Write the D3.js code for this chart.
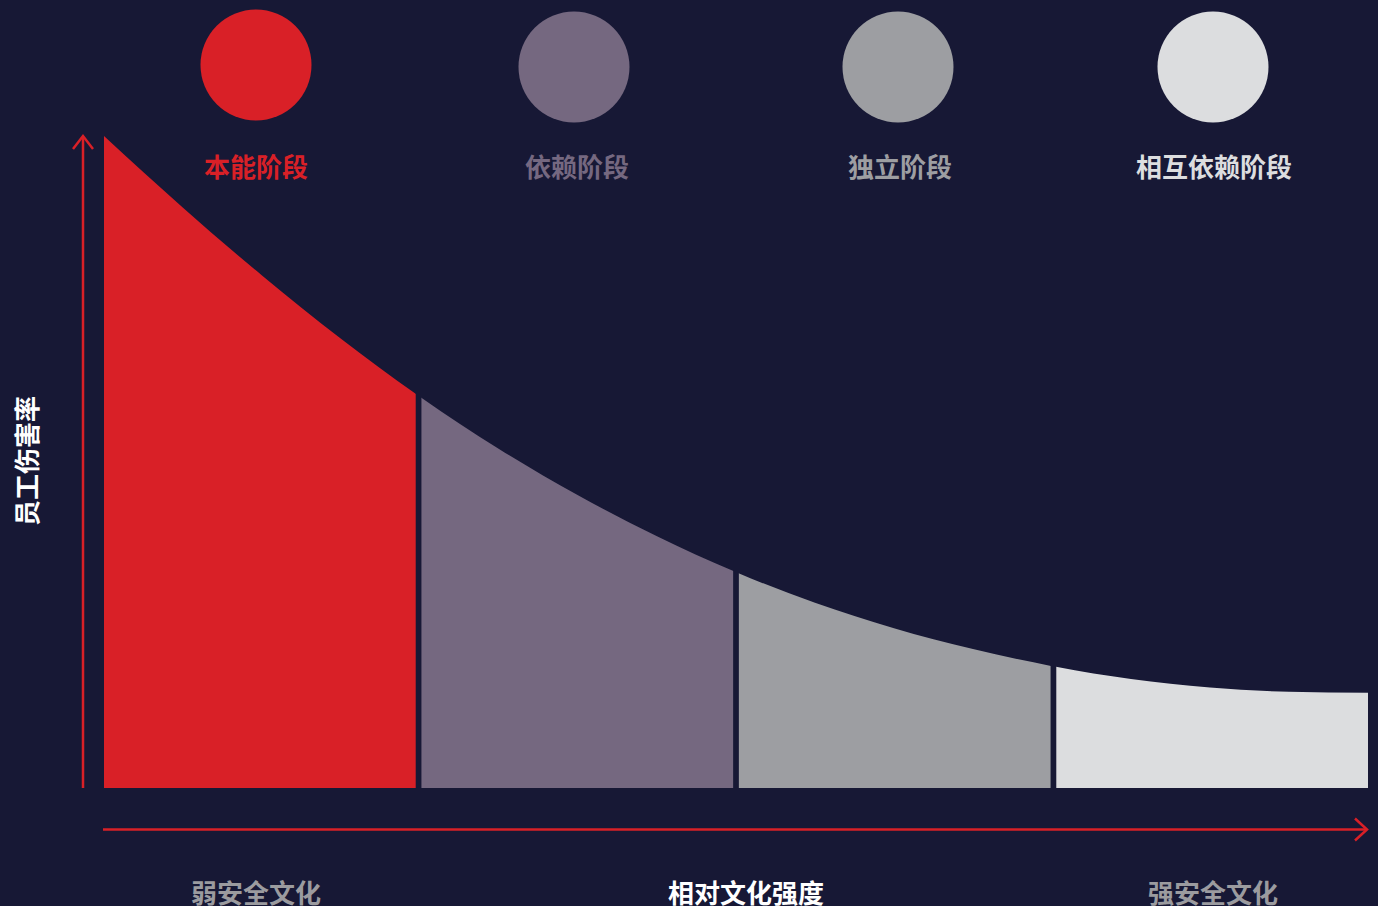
<!DOCTYPE html>
<html>
<head>
<meta charset="utf-8">
<script src="https://cdn.jsdelivr.net/npm/d3@7"></script>
<style>
  html, body { margin: 0; padding: 0; background: #171835; }
  svg { display: block; }
  text { font-family: "Noto Sans CJK SC", "Noto Sans", sans-serif; font-weight: 700; }
</style>
</head>
<body>
<div id="chart"></div>
<script>
// stages of safety culture
const stages = ["本能阶段", "依赖阶段", "独立阶段", "相互依赖阶段"];

// injury-rate curve, x in stage units (0..4), y as relative rate
const curveX = [0, 0.25, 0.5, 0.75, 1, 1.25, 1.5, 1.75, 2, 2.25, 2.5, 2.75, 3, 3.25, 3.5, 3.75, 4];
const curveY = [100, 89.0, 78.6, 68.9, 60.0, 52.0, 44.9, 38.6, 33.1, 28.4, 24.5, 21.3, 18.7, 16.7, 15.4, 14.75, 14.6];

const xEndLabels = ["弱安全文化", "强安全文化"];
const xTitle = "相对文化强度";
const yTitle = "员工伤害率";

const width = 1378, height = 906;
const stageColors = ["#d92027", "#756880", "#9d9ea2", "#dcdddf"];
const axisRed = "#d92027";
const endLabelColor = "#9b9b9f";

const svg = d3.select("#chart").append("svg")
    .attr("width", width)
    .attr("height", height);

svg.append("rect")
    .attr("width", width).attr("height", height)
    .attr("fill", "#171835");

const x = d3.scaleLinear().domain([0, 4]).range([104, 1368]);
const y = d3.scaleLinear().domain([0, 100]).range([788, 136]);
const band = d3.scaleBand().domain(stages).range([104, 1368]).paddingInner(0.018);
const head = d3.scalePoint().domain(stages).range([256, 1213]);
// header items are not evenly spaced in the original
const circleNudge = [0, -1, 4, 0];
const labelNudge = [0, 2, 6, 1];

const points = curveX.map((u, i) => ({ u: u, v: curveY[i] }));

const area = d3.area()
    .x(d => x(d.u))
    .y0(y(0))
    .y1(d => y(d.v))
    .curve(d3.curveMonotoneX);

const defs = svg.append("defs");
stages.forEach((s, i) => {
    defs.append("clipPath").attr("id", "clip" + i)
      .append("rect")
        .attr("x", band(s))
        .attr("y", 0)
        .attr("width", band.bandwidth())
        .attr("height", y(0));
});

svg.append("g")
    .attr("class", "segments")
    .selectAll("path")
    .data(stages)
    .enter().append("path")
      .attr("d", area(points))
      .attr("fill", (d, i) => stageColors[i])
      .attr("clip-path", (d, i) => `url(#clip${i})`);

// header circles + labels
svg.append("g")
    .selectAll("circle")
    .data(stages)
    .enter().append("circle")
      .attr("cx", (d, i) => head(d) + circleNudge[i])
      .attr("cy", (d, i) => i === 0 ? 65 : 67)
      .attr("r", 55.5)
      .attr("fill", (d, i) => stageColors[i]);

svg.append("g")
    .selectAll("text")
    .data(stages)
    .enter().append("text")
      .attr("x", (d, i) => head(d) + labelNudge[i])
      .attr("y", 177)
      .attr("text-anchor", "middle")
      .attr("font-size", 26)
      .attr("fill", (d, i) => stageColors[i])
      .text(d => d);

// axes (arrows)
const axes = svg.append("g")
    .attr("fill", "none")
    .attr("stroke", axisRed)
    .attr("stroke-width", 2.5);

axes.append("path")
    .attr("d", `M83,${y(0)} V${y(100) + 1}`);
axes.append("path")
    .attr("d", `M73,${y(100) + 13} L83,${y(100)} L93,${y(100) + 13}`);

const axisY = 829.5;
axes.append("path")
    .attr("d", `M${x(0) - 1},${axisY} H${x(4) - 1}`);
axes.append("path")
    .attr("d", `M${x(4) - 13},${axisY - 11} L${x(4) - 1},${axisY} L${x(4) - 13},${axisY + 11}`);

// axis labels
svg.append("text")
    .attr("transform", "translate(25,461) rotate(-90)")
    .attr("text-anchor", "middle")
    .attr("dominant-baseline", "central")
    .attr("font-size", 26)
    .attr("fill", "#ffffff")
    .text(yTitle);

svg.append("g")
    .selectAll("text")
    .data(xEndLabels)
    .enter().append("text")
      .attr("x", (d, i) => i === 0 ? head(stages[0]) : head(stages[3]))
      .attr("y", 903)
      .attr("text-anchor", "middle")
      .attr("font-size", 26)
      .attr("fill", endLabelColor)
      .text(d => d);

svg.append("text")
    .attr("x", 746)
    .attr("y", 903)
    .attr("text-anchor", "middle")
    .attr("font-size", 26)
    .attr("fill", "#ffffff")
    .text(xTitle);
</script>
</body>
</html>
